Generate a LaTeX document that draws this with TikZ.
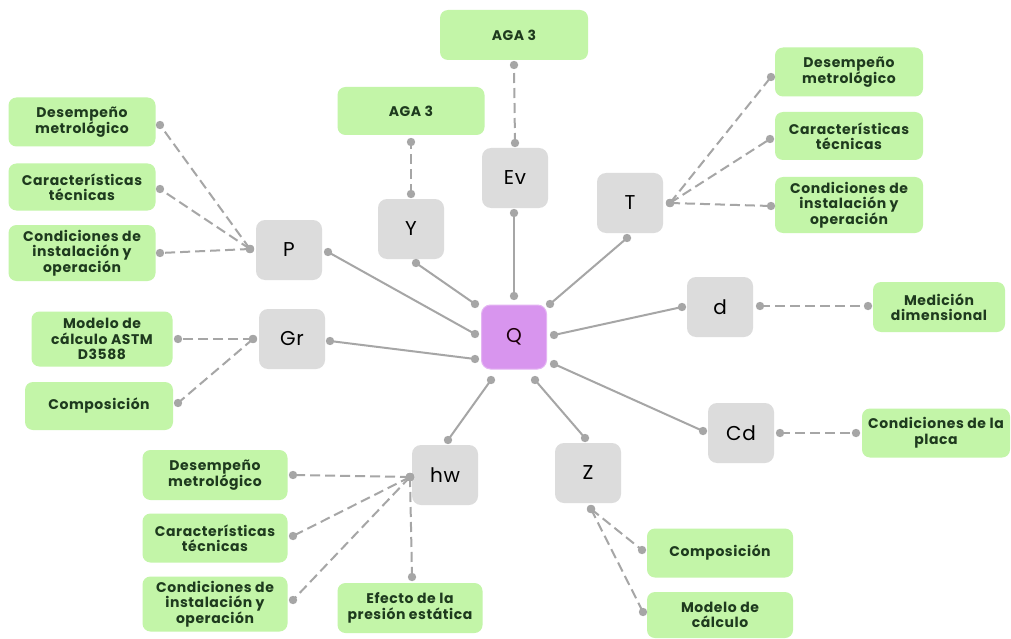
\documentclass[tikz,border=0pt]{standalone}
\usepackage{fontspec}
\setmainfont{Poppins}
\newfontfamily\leaffont[LetterSpace=4]{Poppins}
\newfontfamily\varfont[LetterSpace=4]{Poppins}
\definecolor{gbox}{HTML}{C3F5A8}
\definecolor{gtext}{HTML}{1E3A1E}
\definecolor{graybox}{HTML}{DCDCDC}
\definecolor{qbox}{HTML}{D895EE}
\definecolor{lin}{HTML}{A6A6A6}
\tikzset{
  leaf/.style={fill=gbox, rounded corners=8pt, align=center, text=gtext,
     font=\leaffont\bfseries\fontsize{14}{15.5}\selectfont, inner sep=0pt},
  var/.style={fill=graybox, rounded corners=9pt, minimum width=66pt, minimum height=60pt,
     font=\varfont\fontsize{20}{22}\selectfont, inner sep=0pt},
  solidcon/.style={draw=lin, line width=2pt},
  dashcon/.style={draw=lin, line width=2pt, dash pattern=on 10pt off 5pt},
  dotmark/.style={fill=lin, draw=none},
}
\newcommand{\link}[3]{\draw[#1] (#2) -- (#3); \fill[dotmark] (#2) circle (4.2pt); \fill[dotmark] (#3) circle (4.2pt);}
\begin{document}
\begin{tikzpicture}[x=1pt,y=-1pt]
\useasboundingbox (0,0) rectangle (1011,639);
\fill[white] (0,0) rectangle (1011,639);
% center
\node[fill=qbox, draw=qbox!70!white, line width=1pt, rounded corners=9pt, minimum width=65pt, minimum height=64pt, font=\varfont\fontsize{20}{22}\selectfont, text=black!85!purple] (Q) at (514,337) {Q};
% variables
\node[var] (P) at (289,250) {P};
\node[var] (Gr) at (292,339) {Gr};
\node[var] (Y) at (411,229) {Y};
\node[var] (Ev) at (515,178) {Ev};
\node[var] (T) at (630,203) {T};
\node[var] (d) at (720,307) {d};
\node[var] (Cd) at (741,433) {Cd};
\node[var] (Z) at (588,473) {Z};
\node[var] (hw) at (445,475) {hw};
% leaves
\node[leaf, minimum width=147pt, minimum height=49pt] (L1) at (82,122) {Desempeño\\metrológico};
\node[leaf, minimum width=147pt, minimum height=47pt] (L2) at (82,187) {Características\\técnicas};
\node[leaf, minimum width=147pt, minimum height=56pt] (L3) at (82,253) {Condiciones de\\instalación y\\operación};
\node[leaf, minimum width=141pt, minimum height=55pt] (L4) at (102,339) {Modelo de\\cálculo ASTM\\D3588};
\node[leaf, minimum width=148pt, minimum height=48pt] (L5) at (99,406) {Composición};
\node[leaf, minimum width=147pt, minimum height=48pt] (YA) at (411,111) {AGA 3};
\node[leaf, minimum width=148pt, minimum height=50pt] (EA) at (514,35) {AGA 3};
\node[leaf, minimum width=148pt, minimum height=49pt] (T1) at (849,72) {Desempeño\\metrológico};
\node[leaf, minimum width=148pt, minimum height=48pt] (T2) at (849,136) {Características\\técnicas};
\node[leaf, minimum width=148pt, minimum height=56pt] (T3) at (849,205) {Condiciones de\\instalación y\\operación};
\node[leaf, minimum width=132pt, minimum height=50pt] (DM) at (939,307) {Medición\\dimensional};
\node[leaf, minimum width=148pt, minimum height=49pt] (CP) at (936,433) {Condiciones de la\\placa};
\node[leaf, minimum width=146pt, minimum height=49pt] (Z1) at (720,553) {Composición};
\node[leaf, minimum width=146pt, minimum height=46pt] (Z2) at (720,615) {Modelo de\\cálculo};
\node[leaf, minimum width=145pt, minimum height=50pt] (H1) at (215,475) {Desempeño\\metrológico};
\node[leaf, minimum width=145pt, minimum height=49pt] (H2) at (215,538) {Características\\técnicas};
\node[leaf, minimum width=145pt, minimum height=55pt] (H3) at (215,604) {Condiciones de\\instalación y\\operación};
\node[leaf, minimum width=145pt, minimum height=50pt] (H4) at (410,608) {Efecto de la\\presión estática};
% connection points
\coordinate (qT) at (514,296);
\coordinate (qTL) at (475,304);
\coordinate (qTR) at (550,304);
\coordinate (qL1) at (475,334);
\coordinate (qL2) at (475,359);
\coordinate (qR1) at (554,335);
\coordinate (qR2) at (554,364);
\coordinate (qBL) at (491,380);
\coordinate (qBR) at (535,380);
\coordinate (pR) at (328,252);
\coordinate (pL) at (250,249);
\coordinate (grR) at (330,341);
\coordinate (grL) at (253,339);
\coordinate (yB) at (416,263);
\coordinate (yT) at (411,194);
\coordinate (evB) at (514,213);
\coordinate (evT) at (515,143);
\coordinate (tB) at (627,238);
\coordinate (tR) at (670,203);
\coordinate (dL) at (682,307);
\coordinate (dR) at (760,306);
\coordinate (cdL) at (703,431);
\coordinate (cdR) at (780,433);
\coordinate (zT) at (585,438);
\coordinate (zB) at (591,509);
\coordinate (hwT) at (448,440);
\coordinate (hwL) at (410,477);
\coordinate (l1) at (160,125);
\coordinate (l2) at (160,189);
\coordinate (l3) at (160,253);
\coordinate (l4) at (178,339);
\coordinate (l5) at (178,403);
\coordinate (ya) at (411,142);
\coordinate (ea) at (514,65);
\coordinate (t1) at (771,77);
\coordinate (t2) at (770,139);
\coordinate (t3) at (771,206);
\coordinate (dm) at (868,306);
\coordinate (cp) at (856,433);
\coordinate (z1) at (642,550);
\coordinate (z2) at (643,612);
\coordinate (h1) at (293,475);
\coordinate (h2) at (293,536);
\coordinate (h3) at (293,600);
\coordinate (h4) at (412,577);
% solid connectors
\link{solidcon}{qL1}{pR}
\link{solidcon}{qL2}{grR}
\link{solidcon}{qTL}{yB}
\link{solidcon}{qT}{evB}
\link{solidcon}{qTR}{tB}
\link{solidcon}{qR1}{dL}
\link{solidcon}{qR2}{cdL}
\link{solidcon}{qBR}{zT}
\link{solidcon}{qBL}{hwT}
% dashed connectors
\link{dashcon}{pL}{l1}
\link{dashcon}{pL}{l2}
\link{dashcon}{pL}{l3}
\link{dashcon}{grL}{l4}
\link{dashcon}{grL}{l5}
\link{dashcon}{yT}{ya}
\link{dashcon}{evT}{ea}
\link{dashcon}{tR}{t1}
\link{dashcon}{tR}{t2}
\link{dashcon}{tR}{t3}
\link{dashcon}{dR}{dm}
\link{dashcon}{cdR}{cp}
\link{dashcon}{zB}{z1}
\link{dashcon}{zB}{z2}
\link{dashcon}{hwL}{h1}
\link{dashcon}{hwL}{h2}
\link{dashcon}{hwL}{h3}
\link{dashcon}{hwL}{h4}
\end{tikzpicture}
\end{document}
